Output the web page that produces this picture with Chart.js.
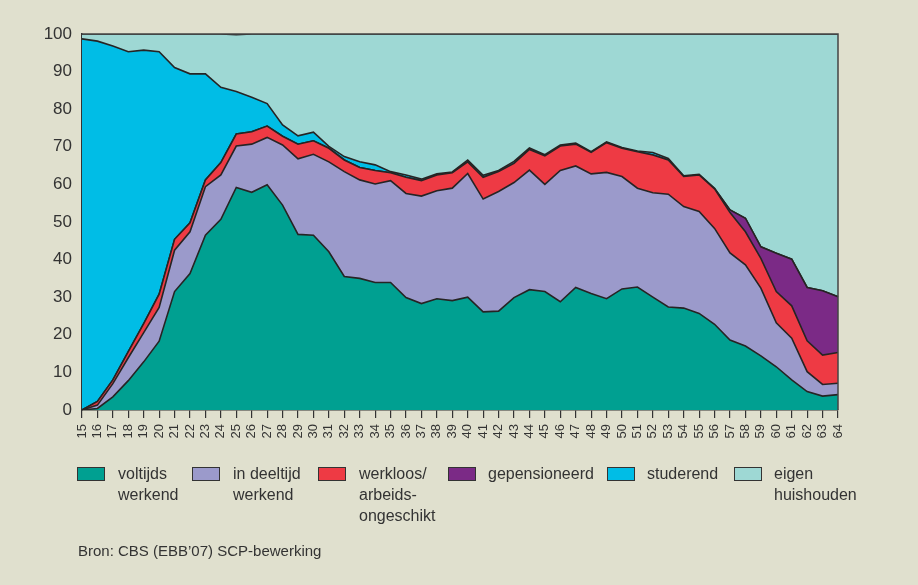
<!DOCTYPE html>
<html>
<head>
<meta charset="utf-8">
<script src="https://cdn.jsdelivr.net/npm/chart.js@4"></script>
<style>
  html, body { margin: 0; padding: 0; background: #e0e0ce; }
  body { width: 918px; height: 585px; position: relative; overflow: hidden; font-family: "Liberation Sans", Arial, sans-serif; color: #333; }
  #wrap { position: absolute; left: 0; top: 0; width: 918px; height: 585px; }
  .leg { position: absolute; top: 466px; font-size: 16px; line-height: 21px; }
  .leg .box { position: absolute; left: 0; top: 1px; width: 26px; height: 12px; border: 1.5px solid #333; }
  .leg .txt { position: absolute; top: -3px; white-space: nowrap; }
  #source { position: absolute; left: 78px; top: 542px; font-size: 15px; }
</style>
</head>
<body>
<div id="wrap"><canvas id="chart" width="918" height="585"></canvas></div>
<div id="legend"></div>
<div id="source">Bron: CBS (EBB’07) SCP-bewerking</div>
<script>
const ages = [15,16,17,18,19,20,21,22,23,24,25,26,27,28,29,30,31,32,33,34,35,36,37,38,39,40,
  41,42,43,44,45,46,47,48,49,50,51,52,53,54,55,56,57,58,59,60,61,62,63,64];

// shares per age (percent)
const voltijds = [0,0.4,3.5,7.8,12.8,18.3,31.5,36.3,46.5,50.7,59.2,57.9,59.9,54.5,46.7,46.5,42.1,35.5,35.0,33.9,
  33.9,29.9,28.3,29.6,29.1,30.0,26.1,26.3,29.9,32.0,31.5,28.8,32.6,31.0,29.6,32.2,32.7,30.0,27.4,27.1,
  25.7,22.8,18.6,17.0,14.4,11.5,8.0,4.9,3.7,4.1];
const deeltijd = [0,0.9,3.5,6.1,7.8,9.0,11.0,11.1,12.9,11.8,11.0,12.8,12.6,16.0,20.1,21.5,23.9,27.9,26.2,26.2,
  27.1,27.7,28.6,28.7,29.9,32.9,30.0,31.8,30.6,31.8,28.5,34.9,32.3,31.8,33.6,29.9,26.3,27.8,30.0,27.0,
  27.1,25.5,23.2,21.6,18.0,11.7,11.1,5.3,3.1,3.0];
const werkloos = [0,1.0,1.0,1.6,2.4,3.5,2.9,2.4,1.8,3.3,3.2,3.3,3.0,2.3,3.9,3.6,3.6,3.1,3.3,3.6,
  2.1,4.3,4.1,4.2,4.1,3.1,5.8,5.3,5.1,5.5,7.6,6.5,5.8,5.7,7.9,7.5,9.7,10.0,9.1,8.0,
  9.7,10.5,10.7,8.8,7.9,8.3,8.6,8.2,7.8,8.2];
const gepensioneerd = [0,0,0,0,0,0,0,0,0,0,0,0,0,0,0,0,0,0,0,0,
  0,0,0,0,0,0,0,0,0,0,0,0,0,0,0,0,0,0,0,0,
  0,0,0.7,3.6,3.1,10.2,12.4,14.2,17.1,14.8];
const studerend = [98.7,95.8,88.8,79.8,72.7,64.5,45.7,39.6,28.2,20.0,11.3,9.2,6.0,3.0,2.2,2.3,0.5,0.9,1.5,1.5,
  0.3,0.6,0.4,0.3,0.2,0.5,0.5,0.3,0.5,0.4,0.3,0.3,0.3,0.2,0.2,0.2,0.2,0.7,0.4,0.2,
  0.2,0.2,0,0,0,0,0,0,0,0];
const eigenHuishouden = [1.3,1.9,3.2,4.7,4.3,4.7,8.9,10.6,10.6,14.2,15.1,16.8,18.5,24.2,27.1,26.1,29.9,32.6,34.0,34.8,
  36.6,37.5,38.6,37.2,36.7,33.5,37.6,36.3,33.9,30.3,32.1,29.5,29.0,31.3,28.7,30.2,31.1,31.5,33.1,37.7,
  37.3,41.0,46.8,49.0,56.6,58.3,59.9,67.4,68.3,69.9];

const seriesLabels = [['voltijds', 'werkend'], ['in deeltijd', 'werkend'], ['werkloos/', 'arbeids-', 'ongeschikt'],
  ['gepensioneerd'], ['studerend'], ['eigen', 'huishouden']];
const seriesColors = ['#00a091', '#9b9acb', '#ee3a44', '#7b2a86', '#00bde6', '#9ed8d4'];
const yTicks = [0, 10, 20, 30, 40, 50, 60, 70, 80, 90, 100];

const seriesData = [voltijds, deeltijd, werkloos, gepensioneerd, studerend, eigenHuishouden];

const datasets = seriesData.map((d, i) => ({
  label: seriesLabels[i].join(' '),
  data: d,
  backgroundColor: seriesColors[i],
  borderColor: '#262424',
  borderWidth: 1.6,
  pointRadius: 0,
  tension: 0,
  fill: i === 0 ? 'origin' : '-1'
}));

// frame around the plot area (top and right edges)
const framePlugin = {
  id: 'frame',
  afterDatasetsDraw(chart) {
    const { ctx, chartArea: a } = chart;
    ctx.save();
    ctx.strokeStyle = '#444';
    ctx.lineWidth = 1.5;
    ctx.beginPath();
    ctx.moveTo(a.left, a.top);
    ctx.lineTo(a.right, a.top);
    ctx.lineTo(a.right, a.bottom);
    ctx.stroke();
    ctx.restore();
  }
};

new Chart(document.getElementById('chart'), {
  type: 'line',
  data: { labels: ages.map(String), datasets },
  options: {
    responsive: false,
    animation: false,
    layout: { padding: { left: 30, top: 34, right: 80, bottom: 130 } },
    plugins: { legend: { display: false }, tooltip: { enabled: false } },
    scales: {
      x: {
        offset: false,
        grid: { display: true, drawOnChartArea: false, drawTicks: true, tickLength: 8, color: '#333', lineWidth: 1.2 },
        border: { display: true, color: '#333', width: 1.5 },
        ticks: { minRotation: 90, maxRotation: 90, autoSkip: false, padding: 6, color: '#333',
          font: { family: 'Liberation Sans', size: 13 } },
        afterFit: s => { s.height = 45; }
      },
      y: {
        stacked: true,
        min: 0, max: 100,
        afterBuildTicks: s => { s.ticks = yTicks.map(v => ({ value: v })); },
        grid: { display: false },
        border: { display: true, color: '#333', width: 1.5 },
        ticks: { padding: 2, color: '#333', font: { family: 'Liberation Sans', size: 17 } },
        afterFit: s => { s.width = 52; }
      }
    }
  },
  plugins: [framePlugin]
});

// legend built from the same labels and colours
const legendX = [[77, 118], [192, 233], [318, 359], [448, 488], [607, 647], [734, 774]];
const legend = document.getElementById('legend');
seriesLabels.forEach((lines, i) => {
  const item = document.createElement('div');
  item.className = 'leg';
  item.style.left = legendX[i][0] + 'px';
  const box = document.createElement('div');
  box.className = 'box';
  box.style.background = seriesColors[i];
  const txt = document.createElement('div');
  txt.className = 'txt';
  txt.style.left = (legendX[i][1] - legendX[i][0]) + 'px';
  txt.innerHTML = lines.join('<br>');
  item.appendChild(box);
  item.appendChild(txt);
  legend.appendChild(item);
});
</script>
</body>
</html>
